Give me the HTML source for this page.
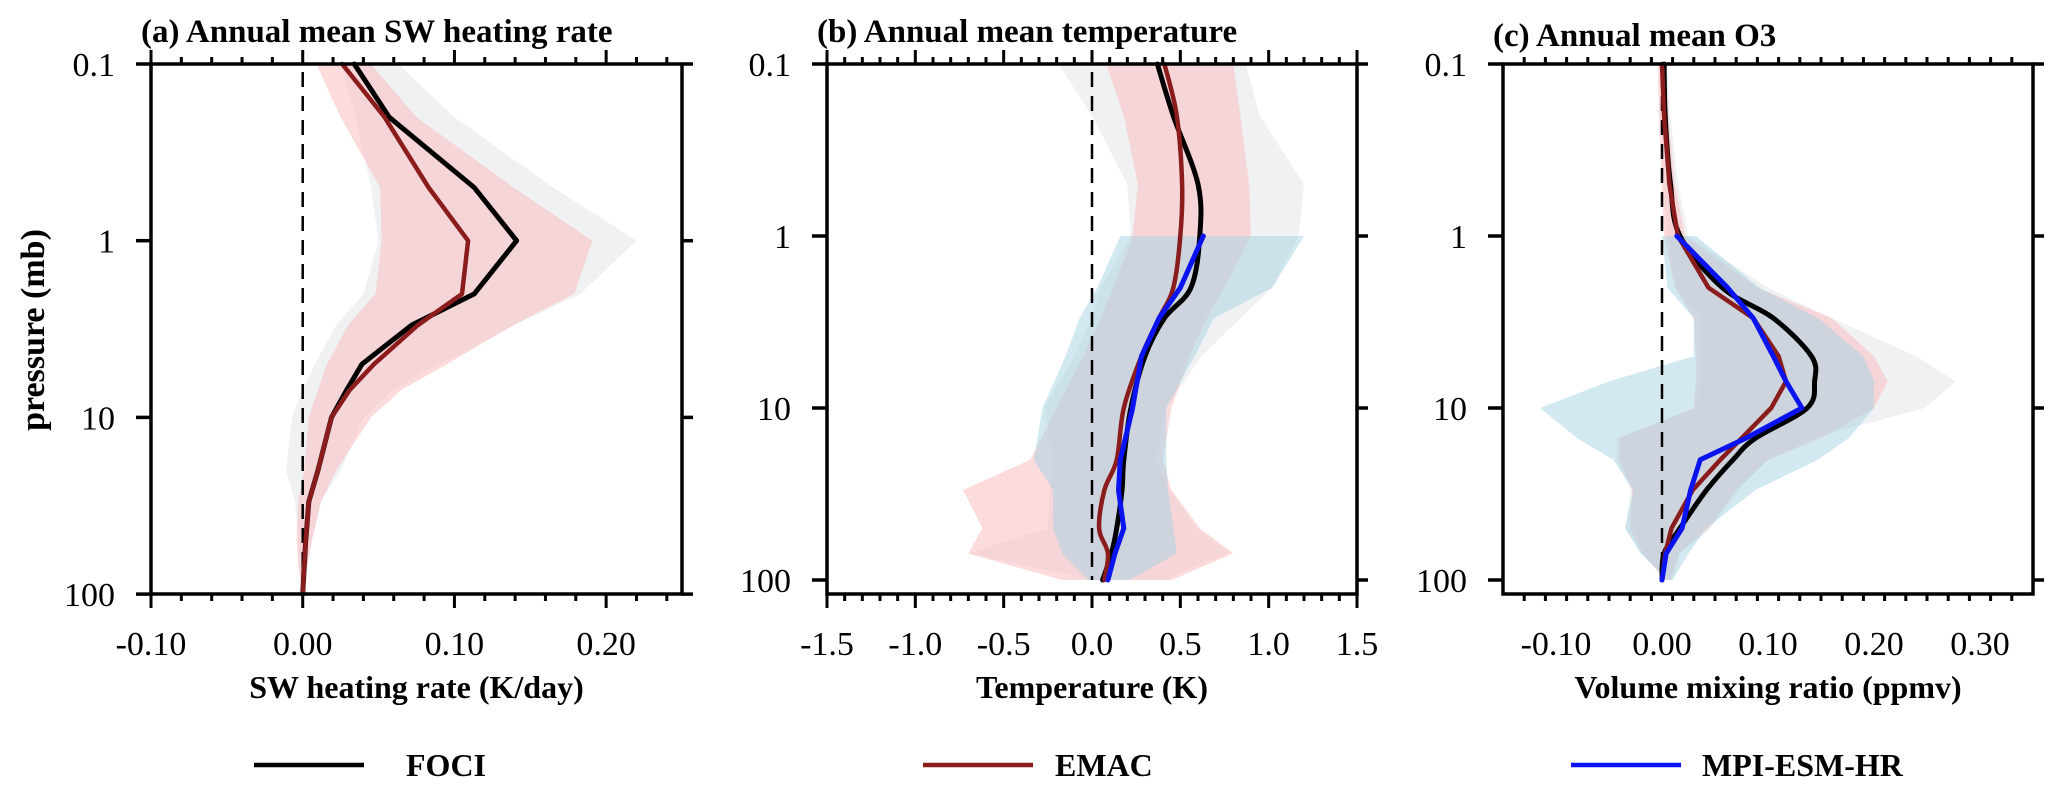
<!DOCTYPE html>
<html><head><meta charset="utf-8"><style>
html,body{margin:0;padding:0;background:#fff;}
svg{display:block;font-family:"Liberation Serif",serif;}
</style></head><body>
<svg id="fig" width="2067" height="795" viewBox="0 0 2067 795" xmlns="http://www.w3.org/2000/svg"></svg>
<script>
// ---------- data ----------
const levA = [0.1,0.2,0.5,1,2,3,5,7,10,20,30,50,70,100];
const fociA = [0.034,0.057,0.113,0.141,0.113,0.072,0.039,0.029,0.019,0.010,0.004,0.002,0.001,0.0];
const emacA = [0.026,0.054,0.083,0.109,0.105,0.076,0.047,0.031,0.019,0.010,0.004,0.002,0.001,0.0];
const emacLoA = [0.009,0.025,0.051,0.052,0.048,0.030,0.016,0.010,0.004,0.001,-0.003,-0.004,-0.003,0.0];
const emacHiA = [0.045,0.075,0.139,0.191,0.179,0.139,0.095,0.065,0.045,0.022,0.012,0.006,0.003,0.001];
const fociLoA = [0.025,0.035,0.045,0.050,0.040,0.022,0.008,0.0,-0.007,-0.011,-0.005,-0.003,-0.002,0.0];
const fociHiA = [0.063,0.100,0.165,0.220,0.183,0.140,0.090,0.060,0.040,0.025,0.012,0.006,0.003,0.001];

const levB = [0.1,0.2,0.5,1,2,3,5,10,20,30,50,70,100];
const fociB = [0.37,0.46,0.60,0.61,0.56,0.41,0.30,0.22,0.18,0.17,0.14,0.11,0.06];
const emacB = [0.41,0.48,0.51,0.50,0.46,0.38,0.28,0.18,0.14,0.07,0.04,0.09,0.07];
const levBm = [1,2,3,5,10,20,30,50,70,100];
const mpiB = [0.63,0.50,0.38,0.28,0.23,0.16,0.15,0.18,0.13,0.09];
const emacLoB = [0.08,0.18,0.26,0.23,0.12,0.05,-0.05,-0.20,-0.35,-0.73,-0.62,-0.70,-0.17];
const emacHiB = [0.80,0.84,0.89,0.90,0.75,0.65,0.55,0.45,0.40,0.45,0.61,0.80,0.45];
const fociLoB = [-0.19,0.0,0.20,0.22,0.05,0.0,-0.10,-0.27,-0.22,-0.24,-0.25,-0.70,0.0];
const fociHiB = [0.87,0.95,1.20,1.17,1.02,0.84,0.62,0.42,0.36,0.44,0.59,0.77,0.40];
const mpiLoB = [0.16,0.03,-0.07,-0.15,-0.28,-0.33,-0.22,-0.22,-0.17,-0.02];
const mpiHiB = [1.20,1.02,0.69,0.58,0.42,0.42,0.43,0.46,0.48,0.21];

const levC = [0.1,0.2,0.5,1,2,3,5,7,10,15,20,30,50,70,100];
const fociC = [0.002,0.003,0.008,0.017,0.057,0.105,0.141,0.144,0.137,0.088,0.067,0.042,0.017,0.002,0.0];
const emacC = [0.0,0.002,0.007,0.015,0.044,0.086,0.110,0.117,0.103,0.075,0.055,0.029,0.009,0.003,0.0];
const levCm = [1,2,3,5,7,10,15,20,30,50,70,100];
const mpiC = [0.014,0.062,0.086,0.105,0.117,0.132,0.079,0.036,0.027,0.019,0.004,0.0];
const emacLoC = [-0.004,-0.003,0.0,0.002,0.012,0.030,0.032,0.032,0.030,-0.040,-0.040,-0.028,-0.030,-0.018,0.003];
const emacHiC = [0.004,0.006,0.012,0.022,0.090,0.160,0.200,0.213,0.200,0.150,0.100,0.070,0.044,0.016,0.008];
const fociLoC = [-0.002,-0.001,0.002,0.005,0.014,0.038,0.035,0.035,0.033,-0.043,-0.043,-0.030,-0.034,-0.020,0.005];
const fociHiC = [0.005,0.008,0.015,0.025,0.100,0.160,0.240,0.277,0.248,0.142,0.100,0.072,0.046,0.017,0.010];
const mpiLoC = [0.0,0.005,0.030,0.030,-0.050,-0.115,-0.080,-0.046,-0.027,-0.035,-0.020,0.005];
const mpiHiC = [0.032,0.092,0.147,0.190,0.200,0.200,0.176,0.147,0.088,0.042,0.025,0.010];

const yTicks = [0.1,1,10,100];
const yTickLabels = ["0.1","1","10","100"];
const xTicksA = [-0.10,0.00,0.10,0.20];
const xTickLabelsA = ["-0.10","0.00","0.10","0.20"];
const xTicksB = [-1.5,-1.0,-0.5,0.0,0.5,1.0,1.5];
const xTickLabelsB = ["-1.5","-1.0","-0.5","0.0","0.5","1.0","1.5"];
const xTicksC = [-0.10,0.00,0.10,0.20,0.30];
const xTickLabelsC = ["-0.10","0.00","0.10","0.20","0.30"];

// ---------- drawing ----------
const NS = "http://www.w3.org/2000/svg";
const svg = document.getElementById('fig');
function mk(tag, attrs, parent){
  const e = document.createElementNS(NS, tag);
  for (const k in attrs) e.setAttribute(k, attrs[k]);
  (parent||svg).appendChild(e);
  return e;
}
const C_PINK = "rgba(250,190,192,0.55)";
const C_GREY = "rgba(222,223,228,0.45)";
const C_BLUE = "rgba(165,212,228,0.5)";

function smoothPath(pts){
  let d = 'M' + pts[0][0].toFixed(1) + ',' + pts[0][1].toFixed(1);
  for (let i = 0; i < pts.length-1; i++){
    const p0 = pts[Math.max(0,i-1)], p1 = pts[i], p2 = pts[i+1], p3 = pts[Math.min(pts.length-1,i+2)];
    const c1x = p1[0] + (p2[0]-p0[0])/6, c1y = p1[1] + (p2[1]-p0[1])/6;
    const c2x = p2[0] - (p3[0]-p1[0])/6, c2y = p2[1] - (p3[1]-p1[1])/6;
    d += ' C' + c1x.toFixed(1)+','+c1y.toFixed(1)+' '+c2x.toFixed(1)+','+c2y.toFixed(1)+' '+p2[0].toFixed(1)+','+p2[1].toFixed(1);
  }
  return d;
}

function panel(cfg){
  const g = mk('g', {});
  
  
  const X = v => cfg.x0 + (v - cfg.xmin) / (cfg.xmax - cfg.xmin) * (cfg.x1 - cfg.x0);
  const Y = p => cfg.ytop + cfg.dec * Math.log10(p / 0.1);
  const bottom = cfg.ybot;
  cfg.bands.forEach(b => {
    let pts = [];
    b.lev.forEach((p,i) => pts.push(X(b.lo[i]).toFixed(1)+','+Y(p).toFixed(1)));
    for (let i = b.lev.length-1; i >= 0; i--) pts.push(X(b.hi[i]).toFixed(1)+','+Y(b.lev[i]).toFixed(1));
    const e = mk('polygon', {points: pts.join(' '), fill: b.color, stroke: 'none'}, g);
    
    
  });
  const z = mk('line', {x1: X(0), x2: X(0), y1: cfg.ytop+8, y2: Y(100), stroke:'#000','stroke-width':2.5,'stroke-dasharray':'15,9'}, g);
  
  
  cfg.lines.forEach(l => {
    const pts = l.lev.map((p,i) => [X(l.v[i]), Y(p)]);
    let e;
    if (l.smooth) {
      e = mk('path', {d: smoothPath(pts), fill:'none', stroke:l.color, 'stroke-width':l.w, 'stroke-linejoin':'round','stroke-linecap':'round'}, g);
    } else {
      e = mk('polyline', {points: pts.map(q => q[0].toFixed(1)+','+q[1].toFixed(1)).join(' '), fill:'none', stroke:l.color, 'stroke-width':l.w, 'stroke-linejoin':'round','stroke-linecap':'round'}, g);
    }
    
    
  });
  const f = mk('rect', {x: cfg.x0, y: cfg.ytop, width: cfg.x1-cfg.x0, height: bottom-cfg.ytop, fill:'none', stroke:'#000','stroke-width':3.5}, g);
  
  
  const n = Math.round((cfg.xmax - cfg.xmin) / cfg.minor);
  for (let i = 0; i <= n; i++){
    const v = cfg.xmin + i*cfg.minor;
    const isMaj = cfg.xt.some(t => Math.abs(t - v) < 1e-6);
    const len = isMaj ? 14 : 7;
    if (i===0 || i===n) { if(!isMaj) continue; }
    mk('line', {x1:X(v), x2:X(v), y1:cfg.ytop, y2:cfg.ytop-len, stroke:'#000','stroke-width':3}, g);
    mk('line', {x1:X(v), x2:X(v), y1:bottom, y2:bottom+len, stroke:'#000','stroke-width':3}, g);
  }
  cfg.xt.forEach((t,i) => {
    const e = mk('text', {x: X(t), y: 655, 'font-size': 34, 'text-anchor':'middle', fill:'#000'}, g);
    e.textContent = cfg.xl[i];
    
    
  });
  yTicks.forEach((p,i) => {
    mk('line', {x1:cfg.x0-15, x2:cfg.x0, y1:Y(p), y2:Y(p), stroke:'#000','stroke-width':3.5}, g);
    mk('line', {x1:cfg.x1, x2:cfg.x1+11, y1:Y(p), y2:Y(p), stroke:'#000','stroke-width':3.5}, g);
    const e = mk('text', {x: cfg.x0-36, y: Y(p)+12, 'font-size': 34, 'text-anchor':'end', fill:'#000'}, g);
    e.textContent = yTickLabels[i];
    
    
  });
  const t = mk('text', {x: cfg.x0-10, y: cfg.ty, 'font-size': 33, 'font-weight':'bold', fill:'#000'}, g);
  t.textContent = cfg.title;
  
  
  const xl = mk('text', {x: (cfg.x0+cfg.x1)/2, y: 698, 'font-size': 32, 'font-weight':'bold', 'text-anchor':'middle', fill:'#000'}, g);
  xl.textContent = cfg.xlabel;
  
  
}

panel({name:'panel-a-sw-heating', x0:151, x1:682, xmin:-0.10, xmax:0.25, minor:0.02, ytop:64, ybot:594, dec:176.7,
  xt:xTicksA, xl:xTickLabelsA, ty:42, title:'(a) Annual mean SW heating rate', xlabel:'SW heating rate (K/day)',
  bands:[{name:'foci-spread-band', lev:levA, lo:fociLoA, hi:fociHiA, color:C_GREY},
         {name:'emac-spread-band', lev:levA, lo:emacLoA, hi:emacHiA, color:C_PINK}],
  lines:[{name:'foci-line', lev:levA, v:fociA, color:'#000', w:5},
         {name:'emac-line', lev:levA, v:emacA, color:'#8b1c1c', w:4.5}]});

panel({name:'panel-b-temperature', x0:827, x1:1357, xmin:-1.5, xmax:1.5, minor:0.1, ytop:64, ybot:594, dec:172,
  xt:xTicksB, xl:xTickLabelsB, ty:42, title:'(b) Annual mean temperature', xlabel:'Temperature (K)',
  bands:[{name:'foci-spread-band', lev:levB, lo:fociLoB, hi:fociHiB, color:C_GREY},
         {name:'emac-spread-band', lev:levB, lo:emacLoB, hi:emacHiB, color:C_PINK},
         {name:'mpi-spread-band', lev:levBm, lo:mpiLoB, hi:mpiHiB, color:C_BLUE}],
  lines:[{name:'foci-line', lev:levB, v:fociB, color:'#000', w:5, smooth:true},
         {name:'emac-line', lev:levB, v:emacB, color:'#8b1c1c', w:4.5, smooth:true},
         {name:'mpi-esm-hr-line', lev:levBm, v:mpiB, color:'#0a14f0', w:5}]});

panel({name:'panel-c-ozone', x0:1503, x1:2033, xmin:-0.15, xmax:0.35, minor:0.02, ytop:64, ybot:594, dec:172,
  xt:xTicksC, xl:xTickLabelsC, ty:46, title:'(c) Annual mean O3', xlabel:'Volume mixing ratio (ppmv)',
  bands:[{name:'foci-spread-band', lev:levC, lo:fociLoC, hi:fociHiC, color:C_GREY},
         {name:'emac-spread-band', lev:levC, lo:emacLoC, hi:emacHiC, color:C_PINK},
         {name:'mpi-spread-band', lev:levCm, lo:mpiLoC, hi:mpiHiC, color:C_BLUE}],
  lines:[{name:'foci-line', lev:levC, v:fociC, color:'#000', w:5, smooth:true},
         {name:'emac-line', lev:levC, v:emacC, color:'#8b1c1c', w:4.5},
         {name:'mpi-esm-hr-line', lev:levCm, v:mpiC, color:'#0a14f0', w:5}]});

const yl = mk('text', {x:0, y:0, 'font-size':34, 'font-weight':'bold', 'text-anchor':'middle', transform:'translate(44,330) rotate(-90)', fill:'#000'});
yl.textContent = 'pressure (mb)';



const legendItems = [
  {name:'legend-foci', label:'FOCI', color:'#000', lx:254, tx:406},
  {name:'legend-emac', label:'EMAC', color:'#8b1c1c', lx:923, tx:1055},
  {name:'legend-mpi-esm-hr', label:'MPI-ESM-HR', color:'#0a14f0', lx:1571, tx:1702}
];
legendItems.forEach(it => {
  const g = mk('g', {});
  
  
  mk('line', {x1:it.lx, x2:it.lx+110, y1:765, y2:765, stroke:it.color, 'stroke-width':4.5}, g);
  const t = mk('text', {x:it.tx, y:776, 'font-size':32, 'font-weight':'bold', fill:'#000'}, g);
  t.textContent = it.label;
});
</script>
</body></html>
